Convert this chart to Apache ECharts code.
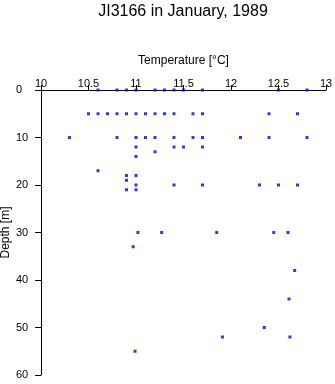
<!DOCTYPE html>
<html>
<head>
<meta charset="utf-8">
<script src="https://cdn.jsdelivr.net/npm/echarts@6/dist/echarts.min.js"></script>
<style>
html,body{margin:0;padding:0;background:#fff;}
#chart{width:335px;height:384px;}
</style>
</head>
<body>
<div id="chart"></div>
<script>
var titleText = 'JI3166 in January, 1989';
var xName = 'Temperature [\u00B0C]';
var yName = 'Depth [m]';

var temperature = [
  10.6, 10.8, 10.9, 11.0, 11.2, 11.3, 11.4, 11.5, 11.7, 12.5, 12.8,
  10.5, 10.6, 10.7, 10.8, 10.9, 11.0, 11.1, 11.2, 11.3, 11.4, 11.6, 11.7, 12.4, 12.7,
  10.3, 10.8, 11.0, 11.1, 11.2, 11.4, 11.6, 11.7, 12.1, 12.4, 12.8,
  11.0, 11.4, 11.5, 11.7,
  11.2,
  11.0,
  10.6,
  10.9, 11.0,
  10.9,
  11.0, 11.4, 11.7, 12.3, 12.5, 12.7,
  10.9, 11.0,
  11.02, 11.27, 11.85, 12.45, 12.6,
  10.97,
  12.67,
  12.61,
  12.35,
  11.91, 12.62,
  10.99
];
var depth = [
  0, 0, 0, 0, 0, 0, 0, 0, 0, 0, 0,
  5, 5, 5, 5, 5, 5, 5, 5, 5, 5, 5, 5, 5, 5,
  10, 10, 10, 10, 10, 10, 10, 10, 10, 10, 10,
  12, 12, 12, 12,
  13,
  14,
  17,
  18, 18,
  19,
  20, 20, 20, 20, 20, 20,
  21, 21,
  30, 30, 30, 30, 30,
  33,
  38,
  44,
  50,
  52, 52,
  55
];

var points = temperature.map(function (t, i) { return [t, depth[i]]; });
var font = 'Liberation Sans, Arial, Helvetica, sans-serif';

var chart = echarts.init(document.getElementById('chart'), null, {renderer: 'canvas'});
chart.setOption({
  animation: false,
  backgroundColor: '#ffffff',
  title: {
    text: titleText,
    left: 178, textAlign: 'center',
    top: -1,
    textStyle: {fontFamily: font, fontSize: 16, fontWeight: 'normal', color: '#000'}
  },
  grid: {left: 41, right: 9, top: 90, bottom: 9, containLabel: false, outerBoundsMode: 'none'},
  xAxis: {
    type: 'value', position: 'top',
    min: 10, max: 13, interval: 0.5,
    name: xName, nameLocation: 'middle', nameGap: 23, nameMoveOverlap: false,
    nameTextStyle: {fontFamily: font, fontSize: 12, color: '#000'},
    axisLine: {show: true, onZero: false, lineStyle: {color: '#000', width: 1}},
    axisTick: {show: true, length: 5, lineStyle: {color: '#000'}},
    axisLabel: {margin: 1, fontFamily: font, fontSize: 11, color: '#000'},
    splitLine: {show: false}
  },
  yAxis: {
    type: 'value', inverse: true,
    min: 0, max: 60, interval: 10,
    name: yName, nameLocation: 'middle', nameGap: 29, nameRotate: 90, nameMoveOverlap: false,
    nameTextStyle: {fontFamily: font, fontSize: 12, color: '#000'},
    axisLine: {show: true, onZero: false, lineStyle: {color: '#000', width: 1}},
    axisTick: {show: true, length: 6, lineStyle: {color: '#000'}},
    axisLabel: {margin: 25, align: 'left', fontFamily: font, fontSize: 11, color: '#000'},
    splitLine: {show: false}
  },
  series: [{
    type: 'scatter',
    data: points,
    symbol: 'rect',
    symbolSize: 3,
    itemStyle: {color: '#0000ff'}
  }]
});
</script>
</body>
</html>
